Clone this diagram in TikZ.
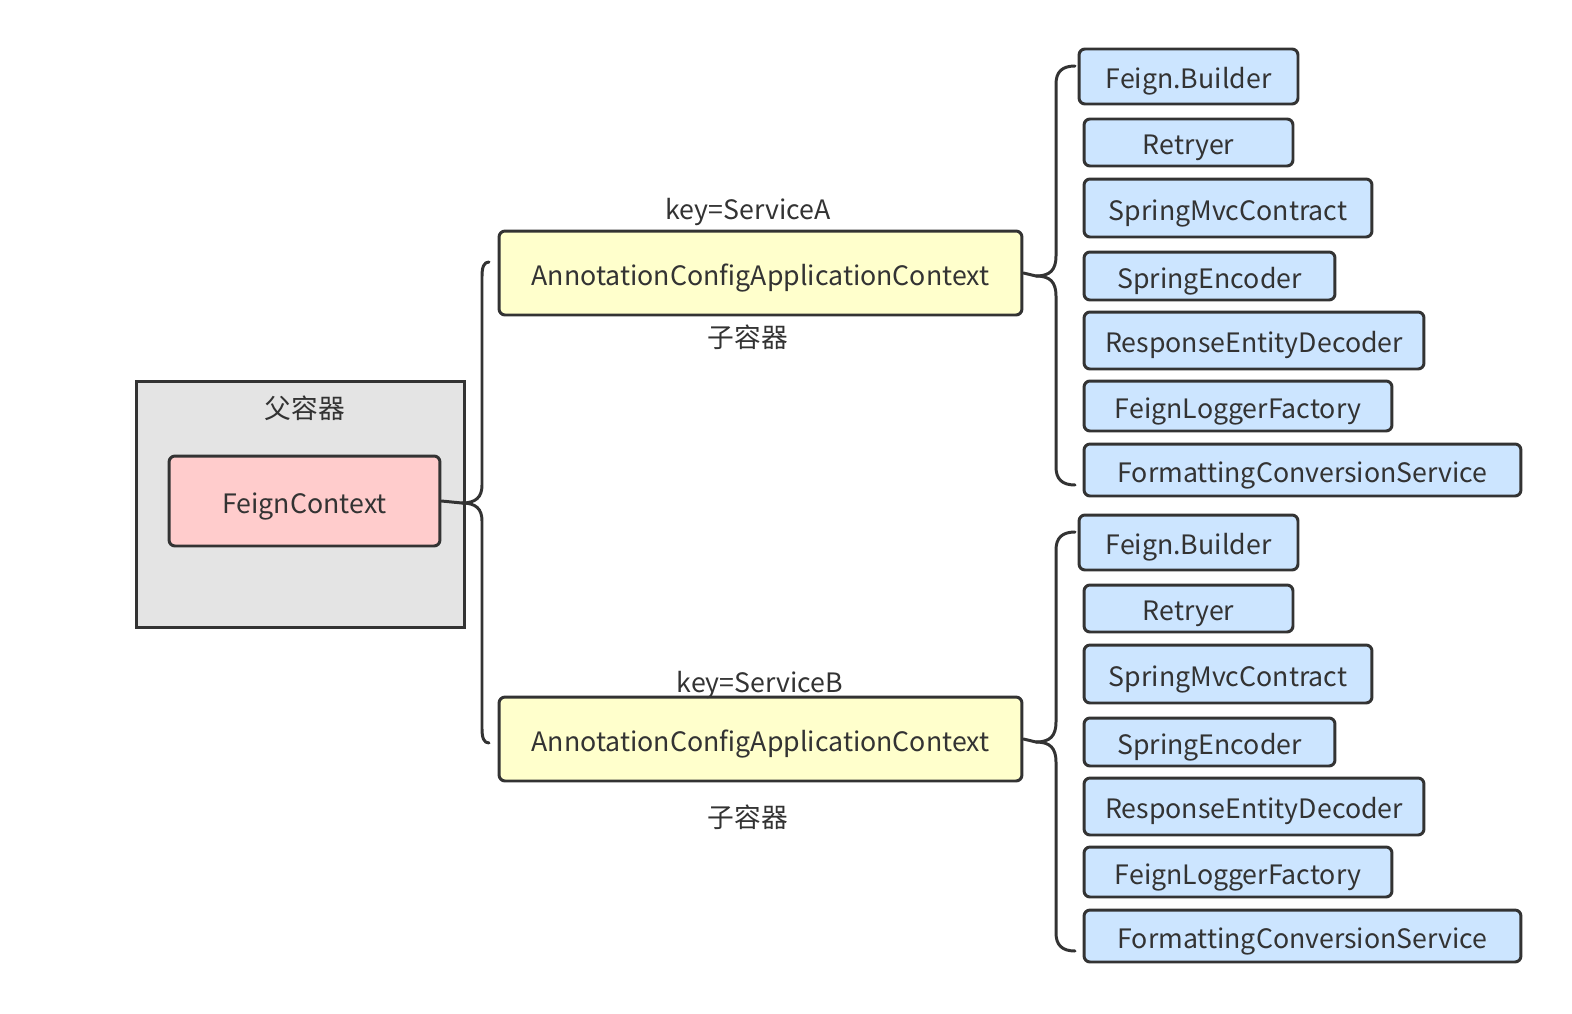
\documentclass[tikz,border=0pt]{standalone}
\usepackage{fontspec}
\setmainfont{Noto Sans CJK SC}
\usepackage{tikz}
\definecolor{inkgray}{HTML}{333333}
\definecolor{parentgray}{HTML}{E4E4E4}
\definecolor{feignpink}{HTML}{FFCCCC}
\definecolor{ctxyellow}{HTML}{FFFFCC}
\definecolor{beanblue}{HTML}{CCE5FF}
\tikzset{
  parentbox/.style={draw=inkgray, fill=parentgray, line width=1.7pt},
  feignbox/.style={draw=inkgray, fill=feignpink, line width=1.7pt, rounded corners=0.12cm},
  ctxbox/.style={draw=inkgray, fill=ctxyellow, line width=1.7pt, rounded corners=0.12cm},
  beanbox/.style={draw=inkgray, fill=beanblue, line width=1.7pt, rounded corners=0.12cm},
  boxtext/.style={font=\fontsize{15.2pt}{17pt}\selectfont, text=inkgray, inner sep=0pt, text height=1.41em, text depth=0pt},
  brace/.style={draw=inkgray, line width=1.7pt, line cap=round, line join=round},
}

\begin{document}
\begin{tikzpicture}[x=0.02cm, y=-0.02cm]
\useasboundingbox (0,0) rectangle (1572,1014);
% parent container
\node[parentbox, minimum width=6.58cm, minimum height=4.94cm] (parent) at (300.5,504.5) {};
\node[boxtext] (parentlabel) at (305,406) {父容器};
\node[feignbox, boxtext, minimum width=5.42cm, minimum height=1.80cm] (fc) at (304.5,501) {FeignContext};
% child contexts
\node[ctxbox, boxtext, minimum width=10.46cm, minimum height=1.68cm] (ctxA) at (760.5,273) {AnnotationConfigApplicationContext};
\node[boxtext] (keyA) at (748,207) {key=ServiceA};
\node[boxtext] (subA) at (748,335) {子容器};
\node[ctxbox, boxtext, minimum width=10.46cm, minimum height=1.68cm] (ctxB) at (760.5,739) {AnnotationConfigApplicationContext};
\node[boxtext] (keyB) at (760,680) {key=ServiceB};
\node[boxtext] (subB) at (748,815) {子容器};
% beans of ServiceA
\node[beanbox, boxtext, minimum width=4.38cm, minimum height=1.10cm] (fbA) at (1188.5,76.5) {Feign.Builder};
\node[beanbox, boxtext, minimum width=4.18cm, minimum height=0.94cm] (rtA) at (1188.5,142.5) {Retryer};
\node[beanbox, boxtext, minimum width=5.76cm, minimum height=1.16cm] (smA) at (1228,208) {SpringMvcContract};
\node[beanbox, boxtext, minimum width=5.02cm, minimum height=0.96cm] (seA) at (1209.5,276) {SpringEncoder};
\node[beanbox, boxtext, minimum width=6.80cm, minimum height=1.14cm] (redA) at (1254,340.5) {ResponseEntityDecoder};
\node[beanbox, boxtext, minimum width=6.16cm, minimum height=1.00cm] (flA) at (1238,406) {FeignLoggerFactory};
\node[beanbox, boxtext, minimum width=8.74cm, minimum height=1.04cm] (fcsA) at (1302.5,470) {FormattingConversionService};
% beans of ServiceB
\node[beanbox, boxtext, minimum width=4.38cm, minimum height=1.10cm] (fbB) at (1188.5,542.5) {Feign.Builder};
\node[beanbox, boxtext, minimum width=4.18cm, minimum height=0.94cm] (rtB) at (1188.5,608.5) {Retryer};
\node[beanbox, boxtext, minimum width=5.76cm, minimum height=1.16cm] (smB) at (1228,674) {SpringMvcContract};
\node[beanbox, boxtext, minimum width=5.02cm, minimum height=0.96cm] (seB) at (1209.5,742) {SpringEncoder};
\node[beanbox, boxtext, minimum width=6.80cm, minimum height=1.14cm] (redB) at (1254,806.5) {ResponseEntityDecoder};
\node[beanbox, boxtext, minimum width=6.16cm, minimum height=1.00cm] (flB) at (1238,872) {FeignLoggerFactory};
\node[beanbox, boxtext, minimum width=8.74cm, minimum height=1.04cm] (fcsB) at (1302.5,936) {FormattingConversionService};
% brace ends
\coordinate (lTop) at (489,262);
\coordinate (lBot) at (489,743);
\coordinate (aTop) at (1075,66);
\coordinate (aBot) at (1075,485);
\coordinate (bTop) at (1075,532);
\coordinate (bBot) at (1075,951);
% brace from FeignContext to the child contexts
\draw[brace] (fc.east) -- (462,503) .. controls (476,503) and (482,497) .. (482,485) -- (482,276) .. controls (482,267) and (484,262) .. (lTop);
\draw[brace] (462,503) .. controls (476,503) and (482,509) .. (482,521) -- (482,729) .. controls (482,738) and (484,743) .. (lBot);
% braces from the child contexts to their beans
\draw[brace] (ctxA.east) -- (1036,276) .. controls (1050,276) and (1056,270) .. (1056,256) -- (1056,84) .. controls (1056,72) and (1062,66) .. (aTop);
\draw[brace] (1036,276) .. controls (1050,276) and (1056,282) .. (1056,296) -- (1056,467) .. controls (1056,479) and (1062,485) .. (aBot);
\draw[brace] (ctxB.east) -- (1036,742) .. controls (1050,742) and (1056,736) .. (1056,722) -- (1056,550) .. controls (1056,538) and (1062,532) .. (bTop);
\draw[brace] (1036,742) .. controls (1050,742) and (1056,748) .. (1056,762) -- (1056,933) .. controls (1056,945) and (1062,951) .. (bBot);
\end{tikzpicture}
\end{document}
